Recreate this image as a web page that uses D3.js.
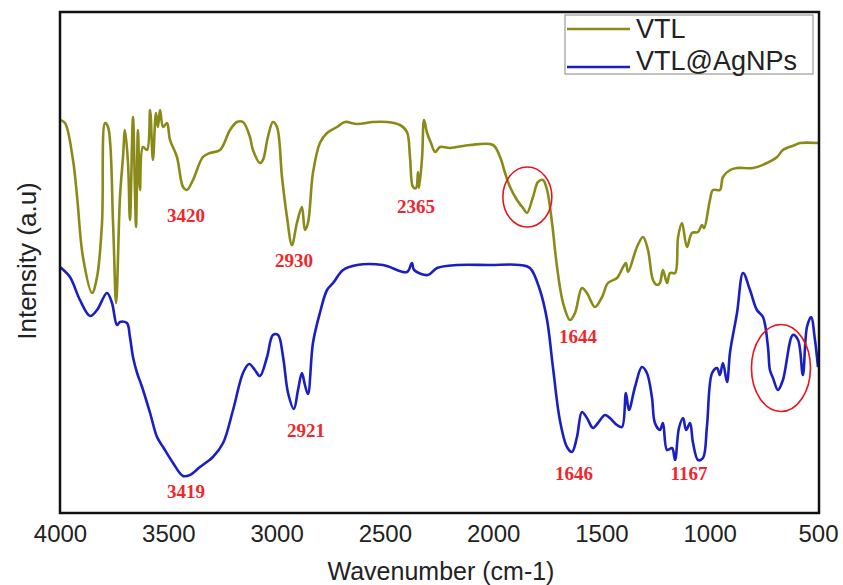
<!DOCTYPE html>
<html>
<head>
<meta charset="utf-8">
<script src="https://cdn.jsdelivr.net/npm/d3@7"></script>
<style>
  body { margin: 0; background: #fff; }
  svg { display: block; }
</style>
</head>
<body>
<div id="chart"></div>
<script>
// wavenumber (cm-1) and intensity (a.u.)
var vtlWave = [4000, 3977, 3940, 3921, 3894, 3852, 3829, 3806, 3792, 3778, 3755, 3741, 3723, 3709, 3700,
    3686, 3677, 3663, 3654, 3649, 3640, 3631, 3617, 3598, 3584, 3571, 3557, 3548, 3538, 3524, 3506,
    3492, 3460, 3432, 3414, 3386, 3340, 3307, 3261, 3215, 3183, 3155, 3123, 3109, 3077, 3063, 3040,
    3017, 2998, 2975, 2952, 2929, 2906, 2883, 2869, 2855, 2832, 2800, 2767, 2721, 2684, 2629, 2555,
    2490, 2430, 2398, 2384, 2370, 2356, 2347, 2342, 2328, 2319, 2305, 2287, 2268, 2245, 2199, 2107,
    2001, 1968, 1945, 1922, 1890, 1862, 1844, 1816, 1793, 1770, 1751, 1728, 1705, 1677, 1645, 1622,
    1590, 1567, 1530, 1497, 1470, 1428, 1400, 1387, 1377, 1336, 1308, 1285, 1262, 1243, 1230, 1216,
    1197, 1183, 1160, 1146, 1128, 1105, 1082, 1054, 1036, 1026, 999, 985, 953, 939, 906, 874, 800,
    736, 689, 662, 606, 583, 500];
var vtlVal = [392, 389, 352, 315, 255, 219, 235, 289, 389, 385, 289, 209, 315, 355, 382,
    349, 292, 395, 322, 285, 382, 322, 365, 362, 402, 352, 399, 385, 402, 385, 389,
    372, 355, 325, 322, 332, 355, 359, 362, 382, 390, 390, 375, 362, 349, 352, 375,
    390, 385, 335, 295, 267, 289, 305, 282, 289, 339, 369, 379, 385, 390, 388, 390,
    390, 387, 380, 355, 325, 324, 340, 324, 355, 392, 379, 369, 360, 365, 364, 367,
    367, 355, 339, 325, 312, 304, 299, 315, 330, 332, 322, 289, 245, 209, 192, 199,
    224, 219, 205, 215, 229, 234, 245, 249, 240, 265, 275, 262, 232, 227, 229, 242,
    229, 239, 239, 275, 289, 265, 279, 280, 287, 284, 312, 322, 322, 335, 342, 344, 344,
    349, 355, 362, 367, 369, 369];

var agWave = [4000, 3954, 3908, 3861, 3829, 3783, 3760, 3737, 3723, 3691, 3677, 3663, 3644, 3621, 3584,
    3552, 3524, 3478, 3432, 3400, 3354, 3294, 3247, 3201, 3155, 3127, 3100, 3077, 3044, 3017, 2993,
    2970, 2947, 2920, 2901, 2883, 2869, 2855, 2832, 2800, 2767, 2739, 2693, 2629, 2509, 2398, 2375,
    2365, 2301, 2259, 2167, 2015, 1876, 1830, 1784, 1751, 1724, 1692, 1659, 1636, 1613, 1590, 1567,
    1539, 1516, 1484, 1461, 1428, 1405, 1387, 1373, 1345, 1313, 1290, 1267, 1253, 1230, 1216, 1197,
    1174, 1160, 1142, 1123, 1109, 1091, 1077, 1054, 1031, 1013, 989, 966, 953, 939, 920, 906, 874,
    846, 814, 782, 754, 731, 722, 708, 685, 662, 616, 592, 570, 551, 532, 514, 500];
var agVal = [245, 235, 212, 196, 202, 219, 209, 187, 190, 189, 175, 155, 139, 125, 99,
    75, 65, 49, 36, 37, 45, 55, 69, 102, 139, 148, 142, 136, 155, 177, 177,
    155, 119, 103, 122, 139, 127, 118, 169, 199, 222, 229, 242, 247, 247, 240, 249,
    242, 237, 244, 247, 247, 247, 244, 222, 192, 145, 92, 65, 60, 75, 100, 94,
    84, 89, 97, 94, 87, 85, 119, 102, 125, 145, 139, 115, 89, 82, 89, 62,
    64, 52, 84, 94, 82, 89, 69, 52, 54, 85, 139, 144, 137, 149, 130, 160, 199,
    239, 222, 202, 195, 165, 142, 134, 122, 132, 177, 172, 137, 185, 195, 172, 145];

var seriesNames = ['VTL', 'VTL@AgNPs'];
var seriesColors = ['#8a8a19', '#1a1fc2'];

var xTicks = [4000, 3500, 3000, 2500, 2000, 1500, 1000, 500];

// peak labels: text, wavenumber at label centre, intensity at baseline
var peakText = ['3420', '2930', '2365', '1644', '3419', '2921', '1646', '1167'];
var peakWave = [3418, 2920, 2356, 1608, 3418, 2864, 1627, 1096];
var peakVal = [290, 245, 299, 169, 14, 75, 32, 32];

// red circled regions
var circleWave = [1842, 671];
var circleVal = [315, 144];

window.onload = function () {

    const width = 843;
    const height = 585;
    var margin = { top: 12, right: 24, bottom: 72, left: 60 };

    var svg = d3.select('#chart')
        .append('svg')
        .attr('width', width)
        .attr('height', height);

    var x = d3.scaleLinear()
        .domain([4000, 500])
        .range([margin.left, width - margin.right - 1]);

    var y = d3.scaleLinear()
        .domain([0, 500])
        .range([height - margin.bottom - 1, margin.top]);

    var series = [
        d3.zip(vtlWave, vtlVal),
        d3.zip(agWave, agVal)
    ];

    var line = d3.line()
        .x(function (d) { return x(d[0]); })
        .y(function (d) { return y(d[1]); })
        .curve(d3.curveCatmullRom.alpha(0.5));

    svg.append('defs').append('clipPath').attr('id', 'plotclip')
        .append('rect')
        .attr('x', margin.left).attr('y', margin.top)
        .attr('width', width - margin.left - margin.right)
        .attr('height', height - margin.top - margin.bottom);

    // spectra
    svg.append('g').attr('clip-path', 'url(#plotclip)')
        .selectAll('path').data(series).enter().append('path')
        .attr('d', line)
        .attr('fill', 'none')
        .attr('stroke', function (d, i) { return seriesColors[i]; })
        .attr('stroke-width', 2.6)
        .attr('stroke-linejoin', 'round');

    // peak labels
    svg.selectAll('.peak').data(peakText).enter().append('text')
        .attr('class', 'peak')
        .attr('x', function (d, i) { return x(peakWave[i]); })
        .attr('y', function (d, i) { return y(peakVal[i]); })
        .attr('text-anchor', 'middle')
        .attr('font-family', 'Liberation Serif, Times New Roman, serif')
        .attr('font-weight', 'bold')
        .attr('font-size', '19px')
        .attr('fill', '#f0262b')
        .text(function (d) { return d; });

    // red ellipses
    svg.selectAll('.mark').data(circleWave).enter().append('ellipse')
        .attr('class', 'mark')
        .attr('cx', function (d) { return x(d); })
        .attr('cy', function (d, i) { return y(circleVal[i]); })
        .attr('rx', function (d, i) { return i == 0 ? 24.5 : 29.5; })
        .attr('ry', function (d, i) { return i == 0 ? 30 : 43.5; })
        .attr('fill', 'none')
        .attr('stroke', '#e8141c')
        .attr('stroke-width', 1.6);

    // frame
    svg.append('rect')
        .attr('x', margin.left).attr('y', margin.top)
        .attr('width', width - margin.left - margin.right)
        .attr('height', height - margin.top - margin.bottom)
        .attr('fill', 'none')
        .attr('stroke', '#111')
        .attr('stroke-width', 2.5);

    // x axis labels, no tick marks
    var xAxis = svg.append('g')
        .attr('transform', 'translate(0,' + (height - margin.bottom) + ')')
        .call(d3.axisBottom(x).tickValues(xTicks).tickSize(0).tickPadding(12).tickFormat(d3.format('d')));
    xAxis.select('.domain').remove();
    xAxis.selectAll('text')
        .attr('font-family', 'Liberation Sans, Arial, sans-serif')
        .attr('font-size', '24px')
        .attr('fill', '#222');

    svg.append('text')
        .attr('x', 441)
        .attr('y', 580)
        .attr('text-anchor', 'middle')
        .attr('font-family', 'Liberation Sans, Arial, sans-serif')
        .attr('font-size', '25px')
        .attr('fill', '#222')
        .text('Wavenumber (cm-1)');

    svg.append('text')
        .attr('transform', 'translate(36,261) rotate(-90)')
        .attr('text-anchor', 'middle')
        .attr('font-family', 'Liberation Sans, Arial, sans-serif')
        .attr('font-size', '26px')
        .attr('fill', '#222')
        .text('Intensity (a.u)');

    // legend
    var legend = svg.append('g');
    legend.append('rect')
        .attr('x', 565).attr('y', 15)
        .attr('width', 248).attr('height', 59)
        .attr('fill', '#fff')
        .attr('stroke', '#9a9a9a')
        .attr('stroke-width', 1.2);

    var legendLineY = [29, 67];
    var legendTextY = [38, 70];
    legend.selectAll('line').data(seriesNames).enter().append('line')
        .attr('x1', 567).attr('x2', 630)
        .attr('y1', function (d, i) { return legendLineY[i]; })
        .attr('y2', function (d, i) { return legendLineY[i]; })
        .attr('stroke', function (d, i) { return seriesColors[i]; })
        .attr('stroke-width', 2.6);

    legend.selectAll('text').data(seriesNames).enter().append('text')
        .attr('x', 636)
        .attr('y', function (d, i) { return legendTextY[i]; })
        .attr('font-family', 'Liberation Sans, Arial, sans-serif')
        .attr('font-size', '27px')
        .attr('fill', '#222')
        .text(function (d) { return d; });

}; // end window.onload
</script>
</body>
</html>
